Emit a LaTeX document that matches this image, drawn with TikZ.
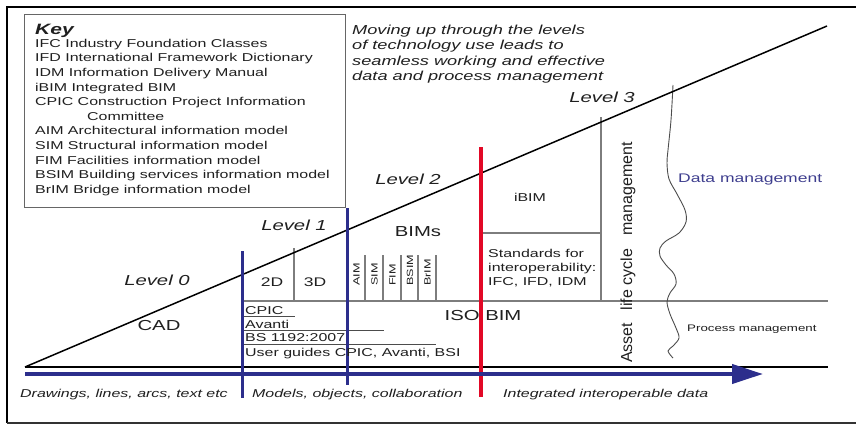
\documentclass[tikz,border=0pt]{standalone}
\usepackage{fontspec}
\setmainfont{Liberation Sans}[FakeStretch=1.4]
\newfontfamily\uprfont{Liberation Sans}
\usetikzlibrary{arrows.meta}
\definecolor{levelblue}{RGB}{44,46,140}
\definecolor{levelred}{RGB}{226,8,38}
\definecolor{rulegray}{RGB}{125,125,125}
\definecolor{datablue}{RGB}{62,62,142}
\tikzset{
  txt/.style={inner sep=0pt,text=black!88},
  keyline/.style={txt,anchor=base west,font=\fontsize{11.4}{14}\selectfont},
  note/.style={txt,anchor=base west,font=\fontsize{13}{15}\selectfont\itshape},
  level/.style={txt,font=\fontsize{14.5}{16}\selectfont\itshape},
  big/.style={txt,font=\fontsize{14.5}{16}\selectfont},
  small/.style={txt,anchor=base west,font=\fontsize{11.4}{14}\selectfont},
  era/.style={txt,anchor=base west,font=\fontsize{11.4}{14}\selectfont\itshape},
  bimtag/.style={txt,rotate=90,anchor=base west,font=\fontsize{9}{10}\selectfont},
  grayrule/.style={rulegray,line width=1.1pt},
  levelline/.style={levelblue,line width=3pt}
}
\begin{document}
\begin{tikzpicture}[x=1pt,y=-1pt]
\useasboundingbox (0,0) rectangle (856,426);
% frame
\draw[line width=1.4pt] (857,7) -- (7,7) -- (7,423);
\draw[black!80,line width=2.6pt] (7,423) -- (857,423);
% key
\draw[black!60,line width=1pt] (24,14) rectangle (345,207);
\node[txt,anchor=base west,font=\fontsize{15}{16}\selectfont\bfseries\itshape] (keyhead) at (35,34.4) {Key};
\node[keyline] (kifc) at (35,47.3) {IFC Industry Foundation Classes};
\node[keyline] (kifd) at (35,61.9) {IFD International Framework Dictionary};
\node[keyline] (kidm) at (35,76.5) {IDM Information Delivery Manual};
\node[keyline] (kibim) at (35,91.1) {iBIM Integrated BIM};
\node[keyline] (kcpic) at (35,105.7) {CPIC Construction Project Information};
\node[keyline] (kcom) at (87,120.3) {Committee};
\node[keyline] (kaim) at (35,134.9) {AIM Architectural information model};
\node[keyline] (ksim) at (35,149.5) {SIM Structural information model};
\node[keyline] (kfim) at (35,164.1) {FIM Facilities information model};
\node[keyline] (kbsim) at (35,178.7) {BSIM Building services information model};
\node[keyline] (kbrim) at (35,193.3) {BrIM Bridge information model};
% note
\node[note] (mv1) at (352,34.6) {Moving up through the levels};
\node[note] (mv2) at (352,49.8) {of technology use leads to};
\node[note] (mv3) at (352,65.0) {seamless working and effective};
\node[note] (mv4) at (352,80.4) {data and process management};
% grid lines
\draw[grayrule] (242,301) -- (828,301);
\draw[grayrule] (294,248) -- (294,301);
\draw[grayrule] (365,255) -- (365,301);
\draw[grayrule] (383,255) -- (383,301);
\draw[grayrule] (401,255) -- (401,301);
\draw[grayrule] (418,255) -- (418,301);
\draw[grayrule] (436,255) -- (436,301);
\draw[grayrule] (481,233) -- (601,233);
\draw[grayrule] (601,117) -- (601,301);
\draw[black!70,line width=0.8pt] (242,316) -- (295,316);
\draw[black!70,line width=0.8pt] (242,330) -- (384,330);
\draw[black!70,line width=0.8pt] (242,344) -- (436,344);
% wavy divider
\draw[black!70,line width=0.9pt] plot[smooth,tension=0.55] coordinates {(673,85) (671,120) (668,150) (667,163) (669,179) (677,194) (685,210) (686,222) (679,233) (666,241) (660,248) (660,256) (666,265) (674,274) (676,284) (670,293) (667,302) (670,314) (676,328) (679,338) (673,346) (668,351) (673,358)};
% base and slope
\draw[line width=1.5pt] (25,367) -- (828,367);
\draw[line width=1.5pt] (25,367) -- (827,26);
% level boundaries
\draw[levelline] (242,251) -- (242,398);
\draw[levelline] (347,208) -- (347,385);
\draw[levelred,line width=3.5pt] (481,147) -- (481,397);
\draw[levelblue,line width=4pt,-{Triangle[length=31pt,width=19pt]}] (25,374) -- (763,374);
% labels
\node[level] (lv0) at (157,280) {Level 0};
\node[level] (lv1) at (294,225) {Level 1};
\node[level] (lv2) at (408,179) {Level 2};
\node[level] (lv3) at (602,97) {Level 3};
\node[big] (cad) at (159,326) {CAD};
\node[big,font=\fontsize{12.5}{14}\selectfont] (twod) at (272,282) {2D};
\node[big,font=\fontsize{12.5}{14}\selectfont] (threed) at (315,282) {3D};
\node[big] (bims) at (418,232) {BIMs};
\node[big] (isobim) at (483,316) {ISO BIM};
\node[txt,font=\fontsize{11.4}{14}\selectfont] (ibim) at (530,197) {iBIM};
\node[bimtag] (aim) at (359.5,286) {AIM};
\node[bimtag] (sim) at (377.5,286) {SIM};
\node[bimtag] (fim) at (395.5,286) {FIM};
\node[bimtag] (bsim) at (413,286) {BSIM};
\node[bimtag] (brim) at (430.5,286) {BrIM};
\node[small] (std1) at (488,257) {Standards for};
\node[small] (std2) at (488,271) {interoperability:};
\node[small] (std3) at (488,285) {IFC, IFD, IDM};
\node[small] (cpic) at (245,314) {CPIC};
\node[small] (avanti) at (245,328) {Avanti};
\node[small] (bs) at (245,341) {BS 1192:2007};
\node[small] (guides) at (245,356) {User guides CPIC, Avanti, BSI};
\node[txt,rotate=90,anchor=base west,font=\uprfont\fontsize{16}{17}\selectfont] (asset) at (632,363) {Asset\hspace{8pt} life cycle\hspace{9pt} management};
\node[txt,anchor=base west,text=datablue,font=\fontsize{12.5}{14}\selectfont] (data) at (678,182) {Data management};
\node[txt,anchor=base west,font=\fontsize{9.5}{11}\selectfont] (process) at (687,331) {Process management};
\node[era] (era0) at (20,397) {Drawings, lines, arcs, text etc};
\node[era] (era1) at (252,397) {Models, objects, collaboration};
\node[era] (era2) at (503,397) {Integrated interoperable data};
\end{tikzpicture}
\end{document}
